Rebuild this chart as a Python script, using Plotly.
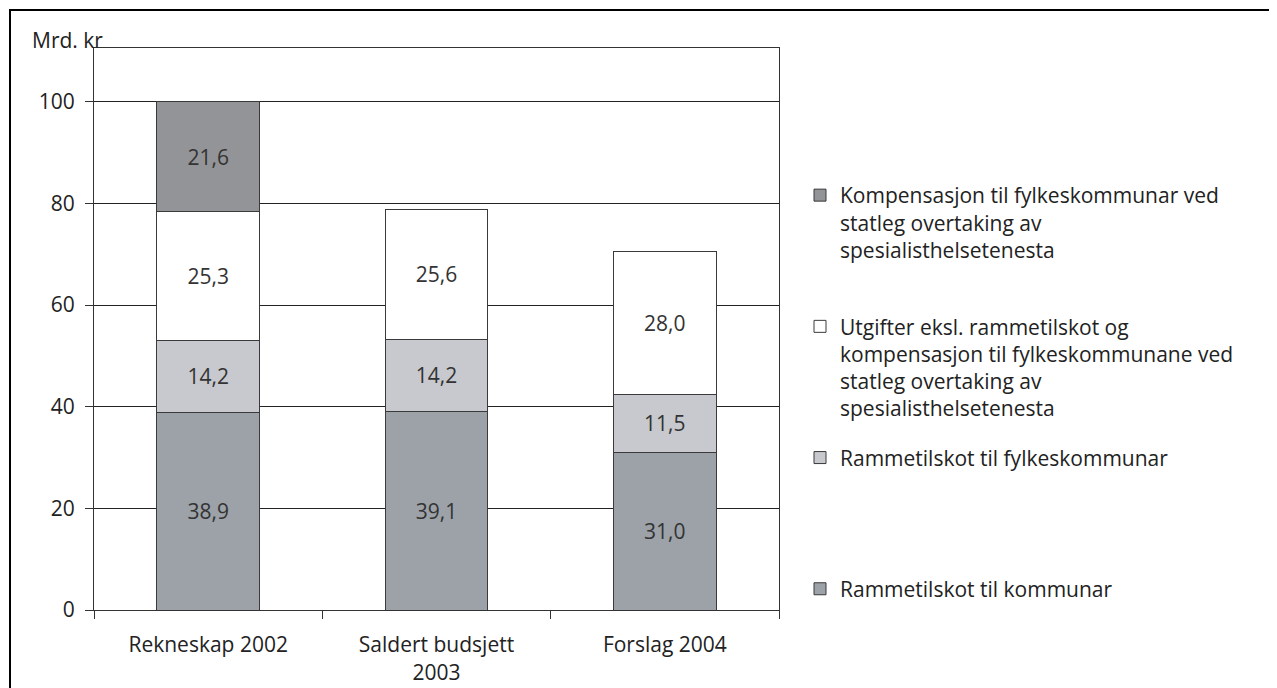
import plotly.graph_objects as go

categories = ["Rekneskap 2002", "Saldert budsjett<br>2003", "Forslag 2004"]
kommunar = [38.9, 39.1, 31.0]
fylkeskommunar = [14.2, 14.2, 11.5]
utgifter = [25.3, 25.6, 28.0]
kompensasjon = [21.6, None, None]

names = [
    "Rammetilskot til kommunar",
    "Rammetilskot til fylkeskommunar",
    "Utgifter eksl. rammetilskot og<br>kompensasjon til fylkeskommunane ved<br>statleg overtaking av<br>spesialisthelsetenesta",
    "Kompensasjon til fylkeskommunar ved<br>statleg overtaking av<br>spesialisthelsetenesta",
]
pads = ["", "<br> <br> <br> ", "", "<br> "]
colors = ["#9ca2a8", "#c7c9ce", "#ffffff", "#939497"]
series = [kommunar, fylkeskommunar, utgifter, kompensasjon]

FONT = "Open Sans"
FS = 21
O = 8  # page body offset
fig = go.Figure()
for i, (vals, name, pad, col) in enumerate(zip(series, names, pads, colors)):
    fig.add_trace(go.Bar(
        x=categories, y=vals, name=name + pad, legendgroup=f"g{i}",
        legendrank=100 - i,
        marker=dict(color=col, line=dict(color="#3a3a3a", width=1)),
        width=0.45,
        texttemplate="%{y:.1f}", textposition="inside",
        insidetextanchor="middle",
        textfont=dict(color="#333333", size=FS, family=FONT),
        constraintext="none",
    ))

W, H = 1277 - O, 688 - O
L, T = 94 - O, 48 - O
PR, PB = 779 - O, 610 - O
R, B = W - PR, H - PB
pw, ph = PR - L, PB - T

fig.update_layout(
    width=W, height=H, barmode="stack", separators=",.",
    margin=dict(l=L, r=R, t=T, b=B, autoexpand=False),
    paper_bgcolor="white", plot_bgcolor="white",
    font=dict(family=FONT, size=FS, color="#222222"),
    xaxis=dict(tickson="boundaries", ticks="outside", ticklen=8, tickcolor="#333",
               showline=True, linecolor="#333", linewidth=1, mirror=True,
               showgrid=False, ticklabelstandoff=16, automargin=False),
    yaxis=dict(range=[0, 110.6], tickvals=[0, 20, 40, 60, 80, 100],
               ticks="outside", ticklen=8, tickcolor="#333",
               showline=True, linecolor="#333", linewidth=1, mirror=True,
               showgrid=True, gridcolor="#222", gridwidth=1, zeroline=False,
               ticklabelstandoff=6, automargin=False),
    legend=dict(x=(800 - O - L) / pw, y=1 - (175 - O - T) / ph, xanchor="left", yanchor="top",
                traceorder="grouped", tracegroupgap=19, valign="top",
                bgcolor="rgba(0,0,0,0)",
                font=dict(size=FS, family=FONT, color="#222")),
    showlegend=True,
)
fig.add_shape(type="rect", xref="paper", yref="paper",
              x0=(10 - O - L) / pw, x1=1.9, y0=-0.5, y1=1 + (T - (10 - O)) / ph,
              line=dict(color="black", width=2), layer="above")
fig.add_annotation(text="Mrd. kr", xref="paper", yref="paper",
                   x=(30 - O - L) / pw, y=1 + (T - (40 - O)) / ph, xanchor="left", yanchor="middle",
                   showarrow=False, font=dict(size=FS, family=FONT, color="#222"))
fig.write_html("out.html")
